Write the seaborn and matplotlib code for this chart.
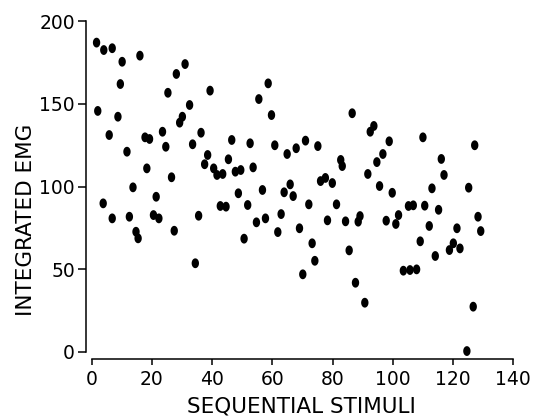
import numpy as np
import pandas as pd
import matplotlib
matplotlib.use('Agg')
import matplotlib.pyplot as plt
import seaborn as sns

# values
stimulus = [1.6, 4.0, 6.8, 10.1, 16.0, 9.5, 2.0, 8.7, 5.8, 11.7,
            18.3, 13.7, 21.4, 17.7, 19.2, 23.5, 24.6, 26.5, 25.3, 28.1,
            31.0, 32.5, 30.1, 29.2, 36.3, 33.5, 39.3, 38.5, 37.5, 40.5,
            41.6, 43.5, 3.8, 6.8, 12.5, 14.7, 15.4, 20.5, 22.3, 27.4,
            35.5, 34.4, 42.7, 44.6, 58.6, 55.5, 59.7, 86.5, 46.5, 52.6,
            60.8, 71.0, 67.9, 64.9, 75.1, 45.4, 47.7, 49.5, 53.6, 82.7,
            83.2, 76.0, 77.6, 79.9, 48.7, 56.7, 63.9, 65.9, 66.9, 51.8,
            54.7, 57.7, 62.9, 61.8, 50.6, 72.1, 69.0, 73.2, 74.1, 70.1,
            81.3, 78.3, 84.3, 85.5, 87.6, 92.5, 93.7, 98.8, 110.0, 127.2,
            96.7, 94.7, 91.7, 116.1, 117.0, 95.6, 99.8, 113.0, 125.2, 89.1,
            88.5, 97.8, 101.9, 101.0, 105.2, 106.8, 110.6, 115.2, 128.3, 112.1,
            121.3, 129.2, 109.1, 118.8, 120.1, 122.3, 114.1, 103.5, 105.7, 107.9,
            90.7, 126.7, 124.6]
emg = [187.2, 182.7, 183.8, 175.6, 179.3, 162.1, 145.8, 142.3, 131.2, 121.1,
       111.0, 99.5, 93.8, 129.8, 128.8, 133.2, 124.1, 105.6, 156.8, 168.2,
       174.2, 149.4, 142.3, 138.7, 132.6, 125.6, 158.1, 119.1, 113.5, 111.0,
       107.0, 107.6, 89.8, 80.7, 81.7, 72.6, 68.6, 82.7, 80.7, 73.2,
       82.3, 53.5, 88.2, 87.8, 162.5, 153.0, 143.3, 144.4, 128.2, 126.2,
       125.0, 127.8, 123.2, 119.7, 124.5, 116.5, 109.0, 110.0, 111.6, 116.1,
       112.4, 103.3, 105.2, 102.1, 95.9, 97.9, 96.5, 101.3, 94.2, 88.8,
       78.3, 80.7, 83.3, 72.4, 68.4, 89.2, 74.7, 65.6, 55.0, 46.8,
       89.2, 79.5, 78.9, 61.3, 41.7, 133.2, 136.7, 127.4, 129.8, 125.0,
       119.7, 114.8, 107.6, 116.7, 107.0, 100.3, 96.2, 98.9, 99.3, 82.1,
       78.7, 79.3, 82.7, 77.3, 88.2, 88.6, 88.4, 85.9, 81.7, 76.1,
       74.7, 73.0, 66.8, 61.5, 65.6, 62.5, 57.9, 49.0, 49.4, 49.8,
       29.6, 27.2, 0.3]
x_ticks = [0, 20, 40, 60, 80, 100, 120, 140]
y_ticks = [0, 50, 100, 150, 200]

df = pd.DataFrame({'stimulus': stimulus, 'emg': emg})

sns.set_style('ticks')
plt.rcParams['font.family'] = ['DejaVu Sans']
plt.rcParams['text.color'] = 'black'

# slightly tall ellipse, like the hand-plotted dots
t = np.linspace(0, 2 * np.pi, 30)
dot = list(zip(0.75 * np.cos(t), np.sin(t)))

fig = plt.figure(figsize=(5.5, 4.2), dpi=100)
ax = fig.add_axes([0.1564, 0.1445, 0.785, 0.824])
sns.scatterplot(x='stimulus', y='emg', data=df, ax=ax, color='black',
                marker=dot, s=50, edgecolor='none', linewidth=0, legend=False)

ax.set_xlim(-1.9, 141.5)
ax.set_ylim(-4.7, 205)
ax.set_xticks(x_ticks)
ax.set_yticks(y_ticks)
ax.spines['top'].set_visible(False)
ax.spines['right'].set_visible(False)
ax.spines['bottom'].set_bounds(0, 140)
ax.spines['left'].set_bounds(0, 200)
for s in ['bottom', 'left']:
    ax.spines[s].set_linewidth(1.1)
    ax.spines[s].set_color('black')
ax.tick_params(axis='both', direction='out', width=1.1, colors='black',
               labelcolor='black', labelsize=13.5)
ax.tick_params(axis='y', length=6, pad=2)
ax.tick_params(axis='x', length=4, pad=4)

ax.set_xlabel('SEQUENTIAL STIMULI', fontsize=15.5, labelpad=5, color='black')
ax.set_ylabel('')
fig.text(26 / 550, 1 - 220 / 420, 'INTEGRATED EMG', rotation=90,
         fontsize=15.5, ha='center', va='center', color='black')

plt.savefig('out.png', dpi=100)
